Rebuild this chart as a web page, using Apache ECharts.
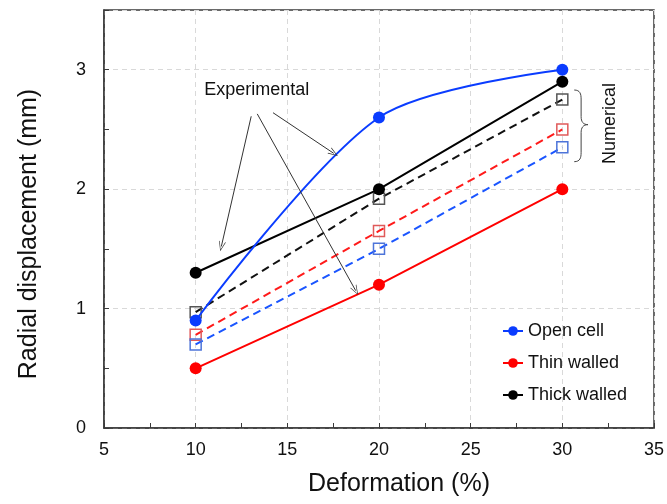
<!DOCTYPE html>
<html>
<head>
<meta charset="utf-8">
<script src="https://cdn.jsdelivr.net/npm/echarts@6/dist/echarts.min.js"></script>
<style>
  html, body { margin: 0; padding: 0; background: #fff; }
  #chart { width: 667px; height: 504px; }
</style>
</head>
<body>
<div id="chart"></div>
<script>
// Radial displacement vs. deformation: experimental (solid) and numerical (dashed)
const deformation = [10, 20, 30];

const openCellExp = [0.9, 2.6, 3.0];
const thinWalledExp = [0.5, 1.2, 2.0];
const thickWalledExp = [1.3, 2.0, 2.9];

const openCellNum = [0.70, 1.50, 2.35];
const thinWalledNum = [0.78, 1.65, 2.50];
const thickWalledNum = [0.97, 1.92, 2.75];

const seriesNames = ['Open cell', 'Thin walled', 'Thick walled'];

const FONT = '"Liberation Sans", Arial, sans-serif';
const AXIS_COLOR = '#3a3a3a';

const pairs = (ys) => deformation.map((x, i) => [x, ys[i]]);

function expSeries(name, ys, color, smooth) {
  return {
    name, type: 'line', data: pairs(ys), smooth: smooth ? 0.3 : false,
    symbol: 'circle', symbolSize: 12, z: 4,
    lineStyle: { color, width: 2 },
    itemStyle: { color }
  };
}
function numSeries(ys, lineColor, boxColor) {
  return {
    name: 'num-' + lineColor, type: 'line', data: pairs(ys),
    symbol: 'rect', symbolSize: 11, z: 3,
    lineStyle: { color: lineColor, width: 2, type: [8, 5] },
    itemStyle: { color: 'rgba(255,255,255,0)', borderColor: boxColor, borderWidth: 1.5 }
  };
}

// Arrow head: thin open chevron, tip at the top
const chevron = 'path://M5,0 L10,12 L9,12 L5,2.2 L1,12 L0,12 Z';

const chart = echarts.init(document.getElementById('chart'), null, { renderer: 'canvas' });

const option = {
  backgroundColor: '#fff',
  animation: false,
  textStyle: { fontFamily: FONT },
  grid: { left: 104, right: 11, top: 10, bottom: 76, show: true, borderColor: AXIS_COLOR, borderWidth: 1.5, backgroundColor: 'transparent' },
  legend: {
    data: seriesNames, orient: 'vertical', left: 497, top: 317,
    itemWidth: 20, itemHeight: 12, itemGap: 14,
    textStyle: { fontSize: 18, color: '#111', fontFamily: FONT }
  },
  xAxis: [{
    type: 'value', min: 5, max: 35, interval: 2.5,
    name: 'Deformation (%)', nameLocation: 'middle', nameGap: 44,
    nameTextStyle: { fontSize: 25, color: '#111', padding: [0, 0, 0, 40] },
    axisLine: { lineStyle: { color: AXIS_COLOR, width: 1.5 } },
    axisTick: { inside: true, length: 5, lineStyle: { color: AXIS_COLOR } },
    axisLabel: { fontSize: 18, color: '#111', margin: 13, formatter: v => (v % 5 === 0 ? String(v) : '') },
    splitLine: { show: false }
  }, {
    type: 'value', min: 5, max: 35, interval: 5, position: 'top',
    axisLine: { show: false }, axisTick: { show: false }, axisLabel: { show: false },
    splitLine: { show: true, lineStyle: { color: '#d9d9d9', type: [5, 4], width: 1 } }
  }],
  yAxis: [{
    type: 'value', min: 0, max: 3.5, interval: 0.5,
    name: 'Radial displacement (mm)', nameLocation: 'middle', nameGap: 62,
    nameTextStyle: { fontSize: 25, color: '#111', padding: [0, 30, 0, 0] },
    axisLine: { show: true, lineStyle: { color: AXIS_COLOR, width: 1.5 } },
    axisTick: { show: true, inside: true, length: 5, lineStyle: { color: AXIS_COLOR } },
    axisLabel: { fontSize: 18, color: '#111', margin: 18, formatter: v => (Number.isInteger(v) ? String(v) : '') },
    splitLine: { show: false }
  }, {
    type: 'value', min: 0, max: 3.5, interval: 1, position: 'right',
    axisLine: { show: false }, axisTick: { show: false }, axisLabel: { show: false },
    splitLine: { show: true, lineStyle: { color: '#d9d9d9', type: [5, 4], width: 1 } }
  }],
  series: [
    numSeries(thickWalledNum, '#111111', '#555555'),
    numSeries(thinWalledNum, '#ff1a1a', '#e05a5a'),
    numSeries(openCellNum, '#1a55ff', '#4d74d9'),
    expSeries('Thin walled', thinWalledExp, '#ff0000', false),
    expSeries('Thick walled', thickWalledExp, '#000000', false),
    expSeries('Open cell', openCellExp, '#0a3cff', true),
    {
      // annotation arrows pointing from the "Experimental" label to the curves
      name: 'arrows', type: 'line', data: [], z: 5,
      markLine: {
        silent: true, animation: false,
        symbol: ['none', chevron], symbolSize: [7, 10],
        label: { show: false },
        lineStyle: { color: '#333', width: 1, type: 'solid' },
        data: [
          [{ coord: [13.03, 2.61] }, { coord: [11.4, 1.52] }],
          [{ coord: [13.36, 2.63] }, { coord: [18.73, 1.15] }],
          [{ coord: [14.22, 2.64] }, { coord: [17.53, 2.30] }]
        ]
      }
    }
  ]
};
chart.setOption(option);

// Text labels and the brace grouping the numerical curves
const px = (x, y) => chart.convertToPixel({ xAxisIndex: 0, yAxisIndex: 0 }, [x, y]);
const expPos = px(13.33, 2.83);
const numPos = px(32.6, 2.55);
const bTop = px(30.65, 2.83);
const bTip = px(31.4, 2.54);
const bBot = px(30.65, 2.23);
const bx = (bTop[0] + bTip[0]) / 2;
const braceStyle = { fill: 'none', stroke: '#444', lineWidth: 1 };

function braceHalf(yEnd, dir) {
  // dir = +1 for upper half (going down to the tip), -1 for lower half
  const yMidA = yEnd + dir * 9;
  const yMidB = bTip[1] - dir * 8;
  return [
    { type: 'bezierCurve', z: 10, silent: true, style: braceStyle,
      shape: { x1: bTop[0], y1: yEnd, cpx1: bx - 1, cpy1: yEnd, cpx2: bx, cpy2: yEnd + dir * 4, x2: bx, y2: yMidA } },
    { type: 'line', z: 10, silent: true, style: braceStyle,
      shape: { x1: bx, y1: yMidA, x2: bx, y2: yMidB } },
    { type: 'bezierCurve', z: 10, silent: true, style: braceStyle,
      shape: { x1: bx, y1: yMidB, cpx1: bx, cpy1: bTip[1] - dir * 3, cpx2: bx + 2, cpy2: bTip[1], x2: bTip[0], y2: bTip[1] } }
  ];
}

chart.setOption({
  graphic: [
    {
      type: 'text', x: expPos[0], y: expPos[1], z: 10,
      style: { text: 'Experimental', font: `18px ${FONT}`, fill: '#111', align: 'center', verticalAlign: 'middle' }
    },
    {
      type: 'text', x: numPos[0], y: numPos[1], rotation: Math.PI / 2, z: 10,
      style: { text: 'Numerical', font: `18px ${FONT}`, fill: '#111', align: 'center', verticalAlign: 'middle' }
    },
    ...braceHalf(bTop[1], 1),
    ...braceHalf(bBot[1], -1)
  ]
});
</script>
</body>
</html>
